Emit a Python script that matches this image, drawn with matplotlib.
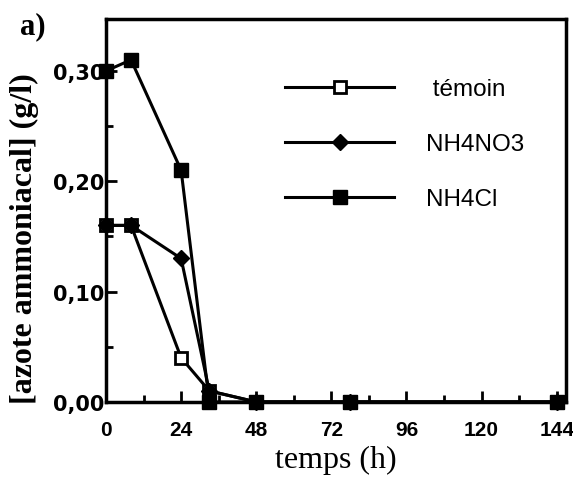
import matplotlib
matplotlib.use("Agg")
import matplotlib.pyplot as plt
from matplotlib.ticker import MultipleLocator, FuncFormatter

# data
temps = [0, 8, 24, 33, 48, 78, 144]
temoin = [0.16, 0.16, 0.04, 0.01, 0.00, 0.00, 0.00]
nh4no3 = [0.16, 0.16, 0.13, 0.01, 0.00, 0.00, 0.00]
nh4cl = [0.30, 0.31, 0.21, 0.00, 0.00, 0.00, 0.00]
xticks = [0, 24, 48, 72, 96, 120, 144]

fig = plt.figure(figsize=(5.73, 4.89), dpi=100)
ax = fig.add_axes([0.185, 0.176, 0.803, 0.783])

lw = 2.2
ax.plot(temps, temoin, color="black", lw=lw, marker="s", ms=9,
        mfc="white", mec="black", mew=2, label=" témoin", clip_on=False, zorder=3)
ax.plot(temps, nh4no3, color="black", lw=lw, marker="D", ms=8,
        mfc="black", mec="black", label="NH4NO3", clip_on=False, zorder=3)
ax.plot(temps, nh4cl, color="black", lw=lw, marker="s", ms=10,
        mfc="black", mec="black", label="NH4Cl", clip_on=False, zorder=3)

ax.set_xlim(0, 147)
ax.set_ylim(0, 0.347)
ax.set_xticks(xticks)
ax.xaxis.set_minor_locator(MultipleLocator(12))
ax.yaxis.set_major_locator(MultipleLocator(0.10))
ax.yaxis.set_minor_locator(MultipleLocator(0.05))
ax.yaxis.set_major_formatter(FuncFormatter(lambda v, p: f"{v:.2f}".replace(".", ",")))

ax.tick_params(which="both", direction="in", width=2, top=False, right=False)
ax.tick_params(which="major", length=8)
ax.tick_params(which="minor", length=5)
ax.tick_params(axis="x", which="major", pad=13)
ax.tick_params(axis="y", which="major", pad=1)
for lab in ax.get_xticklabels():
    lab.set_family("Liberation Sans")
    lab.set_fontweight("bold")
    lab.set_fontsize(15)
for lab in ax.get_yticklabels():
    lab.set_family("DejaVu Sans")
    lab.set_fontweight("bold")
    lab.set_fontsize(15)
for sp in ax.spines.values():
    sp.set_linewidth(2.5)

ax.set_xlabel("temps (h)", family="Liberation Serif", fontsize=23, labelpad=4)
ax.set_ylabel("[azote ammoniacal] (g/l)", family="Liberation Serif",
              fontweight="bold", fontsize=23)
ax.yaxis.set_label_coords(-0.145, 0.43)
fig.text(0.035, 0.93, "a)", family="Liberation Serif", fontweight="bold", fontsize=22)

leg = ax.legend(loc="upper left", bbox_to_anchor=(0.389, 0.845), frameon=False,
                prop={"family": "Liberation Sans", "size": 17.5},
                handlelength=4.5, handletextpad=1.3, labelspacing=1.35,
                borderpad=0, borderaxespad=0)

fig.savefig("out.png", dpi=100)
